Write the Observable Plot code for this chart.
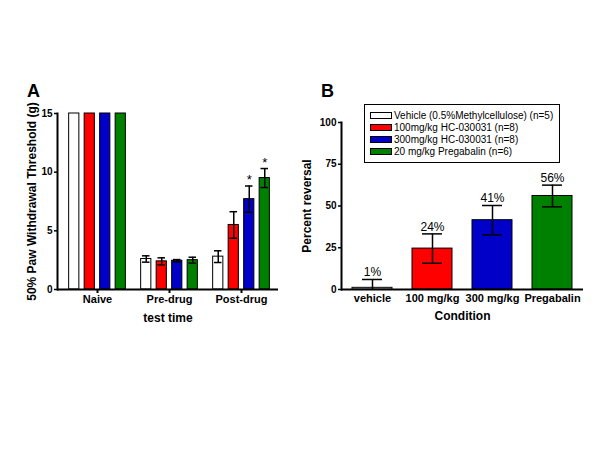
<!DOCTYPE html>
<html><head><meta charset="utf-8">
<script src="https://cdn.jsdelivr.net/npm/d3@7"></script>
<script src="https://cdn.jsdelivr.net/npm/@observablehq/plot@0.6"></script>
<style>
body{margin:0;background:#fff;font-family:"Liberation Sans",Arial,sans-serif;}
#wrap{position:relative;width:600px;height:450px;overflow:hidden;background:#fff;}
.panel{position:absolute;top:0;}
.tag{position:absolute;font-weight:bold;font-size:18px;line-height:1;}
svg g[aria-label="y-axis label"] text, svg g[aria-label="x-axis label"] text{font-size:12px;}
#legend{position:absolute;left:364px;top:104px;width:194px;height:57px;border:1.5px solid #000;font-size:10px;box-sizing:content-box;}
#legend .row{display:flex;align-items:center;height:12.2px;margin-left:5px;}
#legend .sw{width:20px;height:5px;border:1px solid #000;margin-right:2px;}
#legend .rows{padding-top:4px;}
</style></head>
<body><div id="wrap">
<div class="tag" style="left:27px;top:82px;">A</div>
<div class="tag" style="left:321px;top:82px;">B</div>
<div id="pA" class="panel" style="left:0"></div>
<div id="pB" class="panel" style="left:300px"></div>
<div id="legend"><div class="rows"></div></div>
</div>
<script>
// ---- data ----
const seriesNames = ["Vehicle (0.5%Methylcellulose) (n=5)", "100mg/kg HC-030031 (n=8)", "300mg/kg HC-030031 (n=8)", "20 mg/kg Pregabalin (n=6)"];
const seriesColors = ["#ffffff", "#ff0000", "#0000c8", "#008000"];
const groupsA = ["Naive", "Pre-drug", "Post-drug"];
// rows: series, columns: groupsA
const meanA = [[15, 2.6, 2.8], [15, 2.4, 5.5], [15, 2.45, 7.7], [15, 2.5, 9.5]];
const semA  = [[0, 0.27, 0.5], [0, 0.3, 1.13], [0, 0.1, 1.12], [0, 0.25, 0.81]];
const starsA = [["", "", ""], ["", "", ""], ["", "", "*"], ["", "", "*"]];
const ticksA = [0, 5, 10, 15];

const conditionsB = ["vehicle", "100 mg/kg", "300 mg/kg", "Pregabalin"];
const reversalB = [1, 24.5, 41.5, 56];
const semB = [5, 8.8, 8.8, 6.5];
const labelsB = ["1%", "24%", "41%", "56%"];
const ticksB = [0, 25, 50, 75, 100];

const font = '"Liberation Sans", Arial, sans-serif';

// ---- Panel A ----
const bandW = 72.5, step = 15.5, barW = 10.7, capW = 8;
const marksA = [];
seriesNames.forEach((s, i) => {
  const data = groupsA.map((g, j) => ({g, v: meanA[i][j], e: semA[i][j], star: starsA[i][j]}));
  const c = bandW / 2 + (i - 1.5) * step;
  const withErr = data.filter(d => d.e > 0);
  marksA.push(Plot.barY(data, {x: "g", y: "v", fill: seriesColors[i], stroke: "#000", strokeWidth: 1,
    insetLeft: c - barW / 2, insetRight: bandW - c - barW / 2}));
  marksA.push(Plot.ruleX(withErr, {x: "g", y1: d => d.v - d.e, y2: d => d.v + d.e, dx: c - bandW / 2, strokeWidth: 1.5}));
  marksA.push(Plot.tickY(withErr, {x: "g", y: d => d.v + d.e, insetLeft: c - capW / 2, insetRight: bandW - c - capW / 2, strokeWidth: 1.5}));
  marksA.push(Plot.tickY(withErr, {x: "g", y: d => d.v - d.e, insetLeft: c - capW / 2, insetRight: bandW - c - capW / 2, strokeWidth: 1.5}));
  marksA.push(Plot.text(data.filter(d => d.star), {x: "g", y: d => d.v + d.e, text: "star", dx: c - bandW / 2, dy: -2, lineAnchor: "bottom", fontSize: 13, fontWeight: "normal", fill: "#000"}));
});
marksA.push(Plot.ruleY([0], {strokeWidth: 2}));
marksA.push(Plot.frame({anchor: "left", strokeWidth: 2}));
marksA.push(Plot.axisY({ticks: ticksA, tickSize: 3, tickPadding: 2, strokeWidth: 1.5, fontSize: 10, label: "50% Paw Withdrawal Threshold (g)", labelArrow: "none", labelAnchor: "center", labelOffset: 30}));
marksA.push(Plot.axisX({tickSize: 4, tickPadding: 2, strokeWidth: 2, fontSize: 11, label: "test time", labelArrow: "none", labelAnchor: "center", labelOffset: 32}));

const plotA = Plot.plot({
  width: 300, height: 450,
  marginLeft: 57, marginRight: 22, marginTop: 113, marginBottom: 161,
  style: {fontFamily: font, fontWeight: "bold", color: "#000", background: "transparent", overflow: "visible"},
  x: {domain: groupsA, padding: 0, insetLeft: 3.75},
  y: {domain: [0, 15]},
  marks: marksA
});
document.getElementById("pA").appendChild(plotA);

// ---- Panel B ----
const dataB = conditionsB.map((c, i) => ({c, v: reversalB[i], e: semB[i], label: labelsB[i], color: seriesColors[i]}));
const plotB = Plot.plot({
  width: 300, height: 450,
  marginLeft: 41, marginRight: 17, marginTop: 122, marginBottom: 161,
  style: {fontFamily: font, fontWeight: "bold", color: "#000", background: "transparent", overflow: "visible"},
  x: {domain: conditionsB, paddingInner: 0.33, paddingOuter: 0.16},
  y: {domain: [0, 100]},
  color: {type: "identity"},
  marks: [
    Plot.barY(dataB, {x: "c", y: "v", fill: "color", stroke: "#000", strokeWidth: 1}),
    Plot.ruleX(dataB, {x: "c", y1: d => d.v - d.e, y2: d => d.v + d.e, strokeWidth: 1.5, clip: true}),
    Plot.tickY(dataB, {x: "c", y: d => d.v + d.e, inset: 10, strokeWidth: 1.5, clip: true}),
    Plot.tickY(dataB, {x: "c", y: d => d.v - d.e, inset: 10, strokeWidth: 1.5, clip: true}),
    Plot.text(dataB, {x: "c", y: d => d.v + d.e, text: "label", dy: -3, lineAnchor: "bottom", fontSize: 12, fontWeight: "normal", fill: "#000"}),
    Plot.ruleY([0], {strokeWidth: 2}),
    Plot.frame({anchor: "left", strokeWidth: 2}),
    Plot.axisY({ticks: ticksB, tickSize: 3, tickPadding: 2, strokeWidth: 1.5, fontSize: 10, label: "Percent reversal", labelArrow: "none", labelAnchor: "center", labelOffset: 39}),
    Plot.axisX({tickSize: 0, tickPadding: 5, fontSize: 11, label: "Condition", labelArrow: "none", labelAnchor: "center", labelOffset: 30})
  ]
});
document.getElementById("pB").appendChild(plotB);

// ---- legend ----
const rows = d3.select("#legend .rows");
seriesNames.forEach((s, i) => {
  const r = rows.append("div").attr("class", "row");
  r.append("div").attr("class", "sw").style("background", seriesColors[i]);
  r.append("span").text(s);
});
</script>
</body></html>
